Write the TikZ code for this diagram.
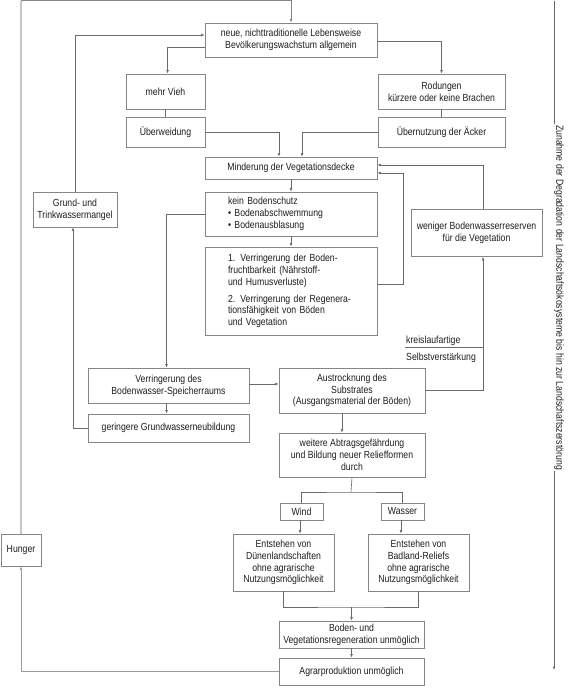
\documentclass[tikz,border=0pt]{standalone}
\usepackage{fontspec}
\setmainfont{Liberation Sans}[FakeStretch=0.845]
\usetikzlibrary{arrows.meta,calc}
\definecolor{boxc}{HTML}{858585}
\definecolor{linec}{HTML}{6A6A6A}
\definecolor{loopc}{HTML}{C6C6C6}
\definecolor{hungc}{HTML}{9C9C9C}
\definecolor{txt}{HTML}{1E1E1E}
\newcommand{\diafont}{\fontsize{10.3}{11.8}\selectfont}
\begin{document}
\begin{tikzpicture}[x=1pt,y=-1pt,
  box/.style={draw=boxc,line width=0.8pt,fill=white,align=center,inner sep=0pt,font=\diafont,text=txt},
  sz/.style 2 args={minimum width=#1pt,minimum height=#2pt},
  leftbox/.style={align=left,text width=126pt,inner xsep=23pt},
  conn/.style={draw=linec,line width=0.6pt},
  arr/.style={conn,-{Latex[length=3.5pt,width=2.8pt]}},
  lab/.style={font=\diafont,text=txt,inner sep=0pt,anchor=west}
]
\useasboundingbox (0,0) rectangle (568,688);

% boxes
\node[box,sz={172}{34}] (neue) at (291,40) {neue, nichttraditionelle Lebensweise\\Bevölkerungswachstum allgemein};
\node[box,sz={79}{35}] (vieh) at (165.5,91.5) {mehr Vieh};
\node[box,sz={79}{30}] (weide) at (165.5,132) {Überweidung};
\node[box,sz={127}{35}] (rodung) at (441.5,91.5) {Rodungen\\kürzere oder keine Brachen};
\node[box,sz={127}{30}] (nutzung) at (441.5,132) {Übernutzung der Äcker};
\node[box,sz={172}{22}] (minder) at (291,168) {Minderung der Vegetationsdecke};
\node[box,sz={172}{44},leftbox] (kein) at (291,214) {kein Bodenschutz\\• Bodenabschwemmung\\• Bodenausblasung};
\node[box,sz={172}{88},leftbox] (verr) at (291,291) {1. Verringerung der Boden-\\fruchtbarkeit (Nährstoff-\\und Humusverluste)\\[5pt]2. Verringerung der Regenera-\\tionsfähigkeit von Böden\\und Vegetation};
\node[box,sz={84}{35}] (grund) at (75,209.5) {Grund- und\\Trinkwassermangel};
\node[box,sz={131}{47}] (weniger) at (476.5,233) {weniger Bodenwasserreserven\\für die Vegetation};
\node[box,sz={161}{35}] (bwasser) at (168.5,385.5) {Verringerung des\\Bodenwasser-Speicherraums};
\node[box,sz={161}{28}] (gering) at (168.5,428) {geringere Grundwasserneubildung};
\node[box,sz={146}{45}] (austr) at (352,390.5) {Austrocknung des\\Substrates\\(Ausgangsmaterial der Böden)};
\node[box,sz={146}{44}] (weitere) at (352,455) {weitere Abtragsgefährdung\\und Bildung neuer Reliefformen\\durch};
\node[box,sz={43}{17}] (wind) at (301.5,511.5) {Wind};
\node[box,sz={43}{17}] (wasser) at (402.5,511.5) {Wasser};
\node[box,sz={101}{57}] (duenen) at (283.5,562.5) {Entstehen von\\Dünenlandschaften\\ohne agrarische\\Nutzungsmöglichkeit};
\node[box,sz={101}{57}] (badland) at (418.5,562.5) {Entstehen von\\Badland-Reliefs\\ohne agrarische\\Nutzungsmöglichkeit};
\node[box,sz={145}{27}] (bodenund) at (351.5,634.5) {Boden- und\\Vegetationsregeneration unmöglich};
\node[box,sz={145}{27}] (agrar) at (351.5,671.5) {Agrarproduktion unmöglich};
\node[box,sz={40}{32}] (hunger) at (21,550) {Hunger};

% labels
\node[lab] (kreis) at (406,341) {kreislaufartige};
\node[lab] (selbst) at (406,358) {Selbstverstärkung};
\node[font=\diafont,text=txt,inner sep=1pt,rotate=-90] (zun) at (559,297.5) {Zunahme der Degradation der Landschaftsökosysteme bis hin zur Landschaftszerstörung};

% coordinates
\coordinate (tl) at (21,0.8);
\coordinate (rtop) at (554,0.5);
\coordinate (rbot) at (554,670);
\coordinate (vloop) at (403,284);
\coordinate (kl) at (405,347.5);
\coordinate (split) at (351,492);
\coordinate (merge) at (351.5,607);
\coordinate (wx) at ([xshift=6.5pt]weniger.south);
\coordinate (wn) at ([xshift=6.5pt]weniger.north);

% outer loop
\draw[draw=loopc,line width=2pt] (hunger.north) -- (tl);
\draw[arr,line width=0.8pt,draw=boxc] (tl) -| (neue.north);
\draw[arr,draw=hungc] (agrar.west) -| (hunger.south);

% right axis
\draw[conn] (rtop) -- (rtop |- zun.west);
\draw[arr] (rtop |- zun.east) -- (rbot);

% connectors
\draw[arr] (grund.north) |- ([yshift=5pt]neue.west);
\draw[arr] ([yshift=-7pt]neue.west) -| ([xshift=2pt]vieh.north);
\draw[arr] ([yshift=-1pt]neue.east) -| (rodung.north);
\draw[conn] (vieh.south) -- (weide.north);
\draw[conn] (rodung.south) -- (nutzung.north);
\draw[arr] (weide.east) -| ([xshift=-12pt]minder.north);
\draw[arr] (nutzung.west) -| ([xshift=11pt]minder.north);
\draw[arr] (minder.south) -- (kein.north);
\draw[arr] (kein.south) -- (verr.north);
\draw[arr] (verr.east |- vloop) -- (vloop) |- ([yshift=-5pt]minder.east);
\draw[arr] (wn) |- ([yshift=3pt]minder.east);
\draw[arr] (austr.east) -| (wx);
\draw[conn] (kl) -- (kl -| wx);
\draw[arr] (kein.west) -| ([xshift=-2pt]bwasser.north);
\draw[arr] ([yshift=1.5pt]bwasser.east) -- ([yshift=1.5pt]bwasser.east -| austr.west);
\draw[arr] ([xshift=-2pt]bwasser.south) -- ([xshift=-2pt]gering.north);
\draw[arr] (gering.west) -| ([xshift=-2pt]grund.south);
\draw[arr] ([xshift=-10pt]austr.south) -- ([xshift=-10pt]weitere.north);
\draw[conn] (weitere.south) -- (split);
\draw[conn] (wind.north) |- (split) -| (wasser.north);
\draw[arr] ([xshift=-1.5pt]wind.south) -- ([xshift=-1.5pt]wind.south |- duenen.north);
\draw[arr] ([xshift=-1.5pt]wasser.south) -- ([xshift=-1.5pt]wasser.south |- badland.north);
\draw[conn] (duenen.south) |- (merge) -| (badland.south);
\draw[arr] (merge) -- (bodenund.north);
\draw[arr] (bodenund.south) -- (agrar.north);
\end{tikzpicture}
\end{document}
